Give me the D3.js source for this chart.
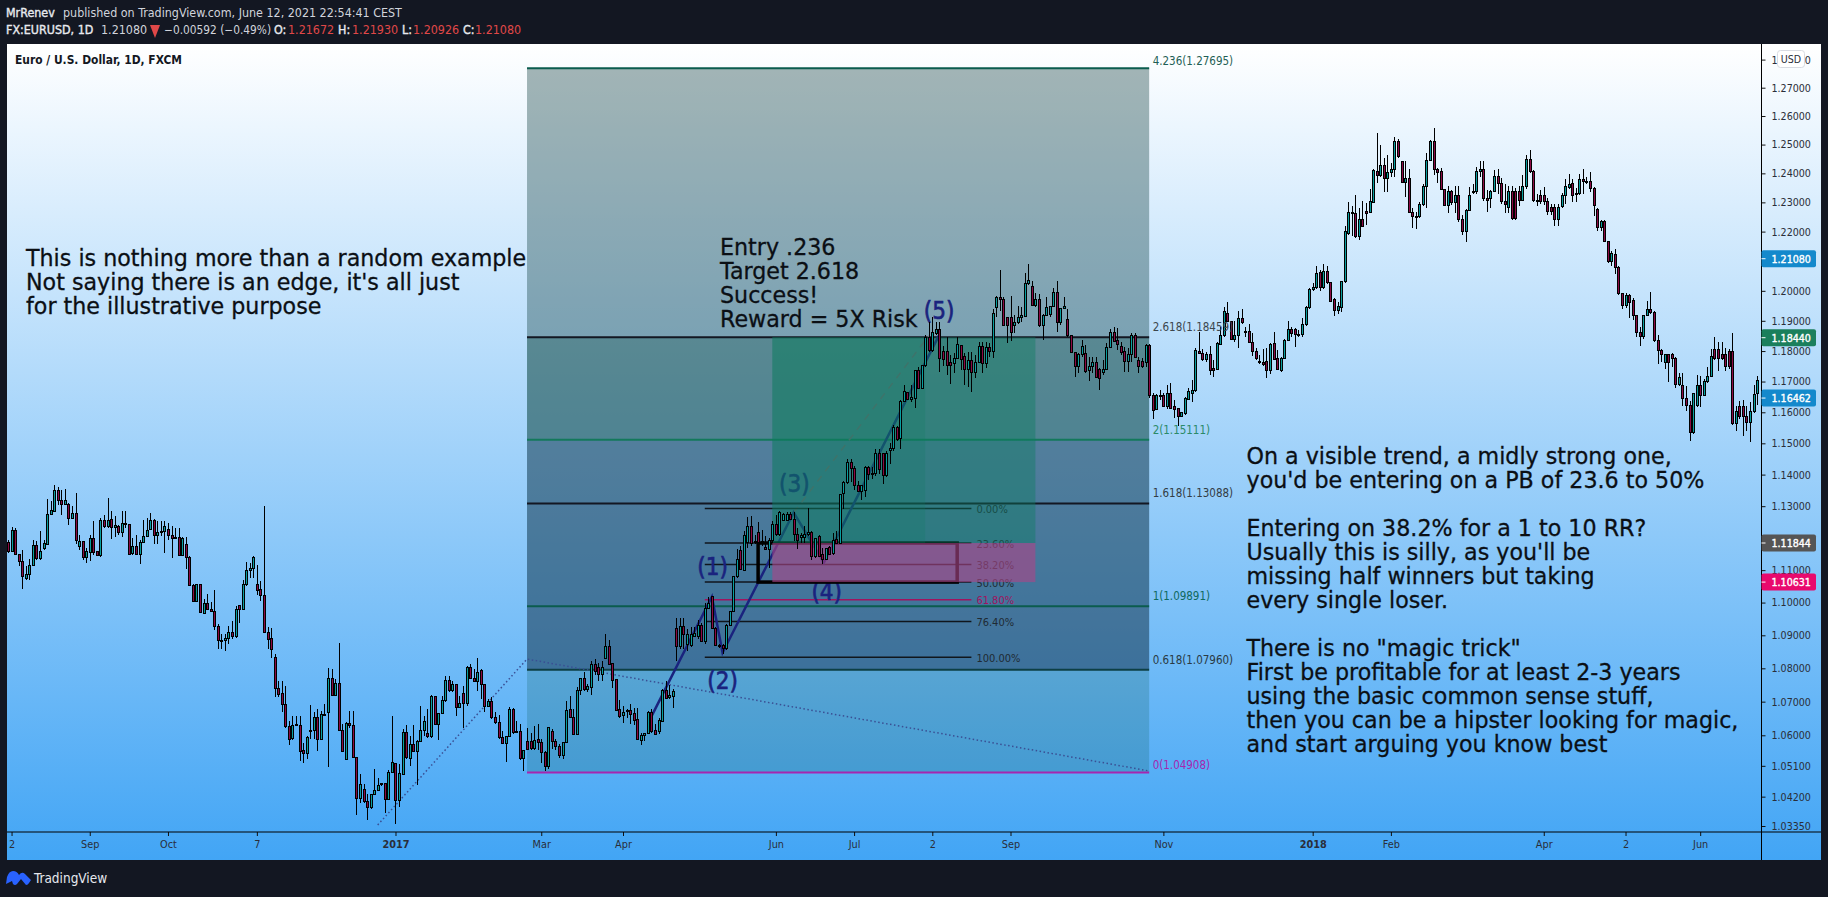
<!DOCTYPE html>
<html><head><meta charset="utf-8">
<script src="https://cdn.jsdelivr.net/npm/d3@7/dist/d3.min.js"></script>
<style>html,body{margin:0;padding:0;background:#131722;overflow:hidden}svg{display:block}text{font-family:"DejaVu Sans";font-stretch:condensed}text.note{font-stretch:normal}</style>
</head><body><svg id="c" width="1828" height="897"></svg>
<script>
// EUR/USD daily candles, prices in pips (1.0000 = 10000)
const opens=[11185,11159,11223,11150,11128,11074,11088,11115,11176,11136,
11167,11180,11275,11284,11351,11318,11304,11304,11261,11278,
11174,11188,11140,11156,11198,11157,11145,11254,11237,11258,
11232,11235,11218,11247,11242,11152,11172,11150,11185,11206,
11226,11254,11208,11216,11221,11228,11208,11202,11202,11145,
11179,11138,11053,11003,11057,10968,10998,10980,10973,10928,
10883,10885,10890,10908,10895,10990,10980,11055,11098,11104,
11057,11039,11022,10910,10890,10833,10740,10723,10692,10625,
10591,10631,10630,10555,10547,10613,10613,10652,10589,10661,
10668,10768,10718,10755,10613,10529,10636,10628,10534,10414,
10442,10407,10388,10425,10439,10458,10458,10411,10490,10516,
10408,10485,10608,10531,10572,10553,10582,10615,10606,10595,
10716,10633,10665,10703,10764,10734,10750,10683,10725,10693,
10801,10768,10760,10792,10751,10685,10701,10653,10638,10592,
10575,10597,10678,10611,10612,10531,10582,10582,10560,10588,
10578,10548,10507,10612,10582,10566,10541,10578,10676,10653,
10603,10733,10768,10736,10743,10813,10801,10781,10831,10865,
10814,10766,10677,10659,10670,10674,10665,10647,10585,10598,
10605,10667,10615,10612,10642,10732,10711,10715,10920,10866,
10928,10873,10868,10896,10896,10931,10880,10982,11018,10921,
10870,10868,10860,10931,10972,11081,11161,11100,11185,11237,
11185,11216,11185,11169,11164,11192,11242,11211,11254,11255,
11275,11257,11211,11203,11203,11211,11218,11143,11205,11148,
11133,11169,11152,11195,11183,11339,11376,11439,11420,11366,
11347,11350,11423,11399,11402,11468,11468,11397,11476,11483,
11552,11514,11634,11664,11640,11645,11736,11678,11752,11845,
11803,11858,11871,11798,11798,11763,11760,11776,11817,11781,
11738,11768,11729,11762,11814,11760,11812,11800,11945,11978,
11972,11912,11912,11885,11896,11912,11915,12023,12014,11950,
11970,11885,11918,11920,11948,11994,11893,11940,11904,11850,
11795,11749,11787,11792,11735,11749,11763,11738,11730,11741,
11811,11861,11834,11814,11798,11767,11790,11852,11768,11765,
11763,11817,11656,11610,11654,11654,11618,11662,11618,11612,
11587,11596,11643,11662,11670,11800,11792,11771,11789,11743,
11741,11822,11850,11925,11899,11839,11850,11907,11866,11866,
11827,11798,11766,11763,11766,11737,11825,11774,11737,11777,
11836,11872,11872,11856,11853,11887,11943,12005,12010,12061,
12012,12066,12027,11971,11935,11943,12030,12194,12263,12263,
12184,12240,12268,12265,12300,12407,12393,12426,12383,12404,
12413,12510,12440,12370,12381,12265,12251,12251,12291,12353,
12446,12510,12413,12407,12345,12290,12337,12299,12324,12240,
12200,12273,12336,12336,12405,12413,12314,12312,12336,12389,
12364,12304,12282,12336,12336,12338,12305,12353,12448,12405,
12308,12322,12322,12304,12282,12282,12240,12285,12322,12352,
12365,12330,12332,12379,12372,12372,12347,12275,12213,12235,
12165,12100,12123,12078,11990,11950,11986,11966,11918,11861,
11847,11917,11937,11926,11836,11802,11763,11788,11788,11774,
11690,11686,11644,11621,11536,11621,11687,11656,11699,11718,
11804,11804,11787,11787,11798,11798,11563,11620,11618,11587,
11568,11602,11660];
const closes=[11159,11223,11149,11128,11081,11088,11115,11176,11136,11157,
11182,11275,11286,11351,11318,11304,11318,11261,11278,11193,
11188,11140,11157,11198,11154,11146,11254,11237,11256,11232,
11239,11218,11245,11242,11150,11172,11150,11185,11206,11223,
11254,11208,11216,11221,11235,11208,11199,11203,11145,11197,
11138,11053,11003,11057,10970,10998,10978,10973,10928,10883,
10885,10890,10908,10895,10980,10980,11055,11098,11104,11140,
11037,11021,10910,10888,10856,10740,10720,10692,10625,10587,
10630,10630,10553,10547,10592,10612,10652,10589,10661,10660,
10768,10718,10755,10613,10553,10636,10628,10534,10414,10455,
10407,10388,10427,10439,10453,10455,10411,10490,10519,10408,
10488,10608,10534,10572,10553,10582,10615,10640,10595,10716,
10633,10665,10703,10764,10734,10750,10683,10693,10693,10801,
10768,10760,10788,10751,10685,10701,10653,10638,10592,10575,
10597,10678,10608,10610,10531,10556,10558,10560,10586,10578,
10548,10507,10623,10582,10566,10541,10578,10673,10653,10603,
10733,10768,10736,10746,10813,10791,10781,10801,10865,10811,
10764,10675,10655,10669,10674,10662,10644,10588,10598,10605,
10667,10612,10603,10644,10732,10709,10719,10729,10866,10928,
10903,10903,10901,10904,10931,10880,10982,10998,10921,10870,
10865,10860,10931,10972,11081,11133,11102,11208,11237,11182,
11190,11185,11190,11164,11192,11242,11211,11281,11273,11275,
11257,11211,11193,11208,11210,11218,11143,11197,11143,11133,
11167,11148,11192,11183,11338,11376,11439,11420,11366,11347,
11366,11423,11399,11402,11468,11416,11397,11468,11483,11552,
11513,11634,11667,11640,11647,11736,11678,11752,11845,11803,
11861,11871,11776,11773,11754,11754,11776,11823,11771,11738,
11768,11729,11762,11814,11760,11812,11800,11923,11978,11970,
11885,11885,11861,11896,11912,11918,12025,12034,11950,11972,
11885,11918,11943,11948,11994,11893,11942,11948,11850,11795,
11749,11787,11814,11732,11749,11763,11713,11711,11741,11811,
11861,11833,11820,11796,11767,11790,11852,11779,11749,11749,
11817,11654,11607,11654,11656,11618,11662,11612,11610,11587,
11599,11645,11667,11670,11802,11792,11771,11790,11735,11735,
11825,11850,11932,11898,11839,11850,11907,11894,11865,11827,
11798,11774,11763,11757,11737,11822,11771,11740,11777,11836,
11870,11858,11853,11855,11887,11943,12005,12010,12058,12012,
12066,12027,11965,11935,11948,12030,12202,12264,12266,12184,
12240,12218,12262,12302,12409,12393,12426,12383,12404,12415,
12510,12459,12370,12381,12265,12251,12250,12293,12353,12446,
12510,12413,12402,12345,12290,12337,12299,12324,12240,12200,
12273,12324,12335,12405,12413,12312,12305,12338,12389,12364,
12302,12291,12336,12244,12244,12305,12356,12448,12405,12306,
12302,12302,12302,12270,12270,12240,12282,12322,12354,12363,
12325,12329,12379,12372,12371,12347,12288,12213,12235,12165,
12100,12125,12078,11990,11950,11986,11960,11918,11861,11847,
11917,11937,11926,11834,11802,11788,11788,11763,11774,11690,
11713,11644,11622,11536,11660,11687,11656,11699,11718,11782,
11775,11775,11775,11750,11750,11563,11603,11587,11587,11568,
11602,11657,11705];
const highs=[11195,11235,11231,11150,11164,11112,11136,11195,11190,11223,
11195,11322,11315,11367,11362,11351,11353,11310,11299,11343,
11211,11190,11169,11208,11254,11159,11263,11273,11325,11284,
11268,11242,11284,11284,11242,11200,11211,11195,11255,11263,
11278,11260,11252,11252,11252,11247,11239,11232,11232,11204,
11204,11143,11057,11057,11057,11010,11027,11003,11038,10933,
10903,10903,10928,10943,10988,10993,11070,11124,11122,11143,
11117,11067,11301,10925,10923,10843,10763,10761,10748,10643,
10658,10658,10658,10577,10597,10690,10668,10678,10673,10693,
10801,10798,10768,10876,10633,10638,10673,10673,10534,10485,
10456,10427,10427,10502,10475,10461,10461,10498,10657,10519,
10514,10618,10630,10597,10630,10587,10688,10658,10678,10720,
10718,10665,10718,10776,10778,10763,10750,10718,10748,10808,
10813,10798,10830,10798,10753,10708,10713,10668,10660,10613,
10597,10683,10680,10643,10633,10558,10623,10608,10628,10633,
10590,10553,10626,10618,10588,10573,10578,10703,10718,10678,
10743,10770,10788,10753,10821,10828,10816,10821,10905,10885,
10816,10766,10704,10687,10679,10692,10682,10682,10606,10608,
10672,10677,10632,10652,10737,10761,10751,10738,10953,10953,
10953,10918,10926,10926,10947,10936,10998,11018,11021,10926,
10875,10875,10934,10975,11083,11166,11174,11221,11266,11268,
11211,11250,11226,11206,11200,11252,11273,11286,11278,11281,
11281,11283,11232,11216,11237,11294,11221,11200,11211,11169,
11169,11174,11216,11221,11340,11381,11449,11449,11426,11381,
11366,11426,11426,11423,11481,11481,11468,11476,11502,11560,
11555,11640,11689,11667,11689,11738,11749,11754,11852,11896,
11912,11896,11896,11817,11847,11787,11792,11847,11820,11792,
11798,11798,11787,11830,11830,11830,11825,11940,11983,12070,
11978,11912,11983,11918,11950,11945,12059,12090,12032,11994,
11989,11923,11978,11950,12010,12032,11942,11978,11940,11852,
11798,11792,11836,11820,11781,11781,11781,11743,11771,11828,
11874,11879,11876,11830,11814,11809,11858,11858,11781,11776,
11823,11822,11662,11658,11672,11662,11689,11696,11640,11615,
11602,11651,11678,11705,11809,11863,11806,11798,11817,11771,
11830,11879,11947,11961,11901,11901,11934,11940,11879,11890,
11858,11809,11786,11808,11811,11828,11864,11802,11780,11841,
11898,11879,11875,11870,11909,11949,12010,12027,12083,12070,
12089,12083,12029,11977,11962,12033,12219,12300,12286,12327,
12280,12303,12297,12347,12415,12541,12498,12454,12465,12436,
12525,12519,12442,12442,12414,12280,12268,12300,12364,12471,
12516,12557,12419,12419,12347,12358,12341,12358,12358,12256,
12278,12352,12364,12421,12443,12443,12341,12341,12410,12414,
12384,12363,12358,12358,12350,12358,12394,12465,12480,12411,
12330,12341,12352,12315,12296,12293,12293,12333,12380,12397,
12382,12349,12398,12414,12386,12406,12353,12280,12241,12241,
12168,12134,12140,12083,11994,11994,11988,11977,11920,11881,
11920,11966,11997,11934,11853,11808,11791,11791,11793,11780,
11727,11728,11686,11638,11664,11723,11717,11707,11746,11806,
11848,11829,11829,11810,11806,11860,11622,11638,11640,11620,
11632,11688,11717];
const lows=[11154,11158,11147,11112,11043,11070,11068,11115,11133,11130,
11164,11178,11275,11284,11304,11271,11304,11242,11260,11180,
11164,11131,11122,11128,11148,11143,11141,11232,11232,11198,
11204,11211,11204,11232,11148,11148,11148,11120,11183,11206,
11226,11180,11180,11206,11154,11195,11138,11200,11145,11145,
11104,11050,11001,11001,10968,10965,10976,10971,10916,10858,
10858,10853,10873,10888,10893,10936,10978,11052,11075,11075,
11024,11006,10908,10858,10830,10713,10713,10668,10623,10572,
10587,10628,10524,10519,10529,10588,10588,10553,10587,10658,
10507,10716,10718,10613,10553,10527,10623,10534,10367,10403,
10403,10352,10385,10425,10437,10451,10372,10411,10490,10340,
10391,10485,10529,10510,10550,10453,10582,10597,10592,10592,
10632,10587,10663,10700,10728,10730,10658,10683,10623,10688,
10768,10758,10733,10708,10668,10683,10648,10633,10589,10573,
10522,10595,10603,10608,10527,10495,10556,10558,10558,10558,
10519,10495,10500,10560,10558,10533,10529,10576,10650,10600,
10601,10721,10733,10728,10720,10780,10761,10761,10829,10811,
10741,10672,10652,10637,10652,10633,10630,10588,10570,10583,
10603,10608,10600,10603,10639,10707,10709,10682,10823,10858,
10858,10853,10865,10894,10890,10880,10875,10982,10919,10867,
10860,10843,10855,10929,10972,11076,11100,11097,11169,11174,
11180,11164,11174,11162,11107,11185,11206,11206,11252,11252,
11255,11190,11166,11185,11185,11206,11131,11138,11141,11119,
11130,11148,11148,11180,11180,11292,11371,11376,11350,11345,
11318,11329,11384,11387,11397,11402,11371,11392,11434,11476,
11507,11482,11634,11640,11634,11615,11675,11675,11749,11798,
11798,11852,11732,11752,11722,11691,11727,11773,11738,11689,
11683,11667,11711,11760,11727,11743,11781,11776,11912,11934,
11882,11825,11833,11858,11890,11896,11912,12021,11950,11945,
11880,11838,11918,11912,11945,11863,11887,11940,11847,11792,
11716,11727,11781,11727,11702,11727,11711,11672,11722,11738,
11809,11830,11805,11787,11732,11732,11765,11776,11727,11743,
11749,11645,11577,11607,11640,11616,11612,11610,11580,11555,
11585,11591,11640,11634,11667,11789,11767,11765,11722,11716,
11738,11820,11847,11896,11836,11830,11811,11890,11847,11825,
11785,11771,11757,11752,11712,11726,11769,11737,11731,11774,
11834,11847,11814,11847,11847,11883,11939,11999,12007,11999,
12007,12022,11962,11915,11924,11928,12027,12190,12185,12178,
12170,12214,12223,12263,12297,12366,12387,12336,12336,12387,
12387,12453,12368,12318,12263,12211,12210,12246,12288,12280,
12443,12396,12368,12341,12287,12263,12290,12263,12234,12189,
12163,12271,12330,12330,12387,12303,12268,12279,12334,12330,
12296,12263,12263,12240,12240,12286,12303,12347,12400,12300,
12286,12296,12290,12257,12257,12218,12218,12282,12296,12347,
12301,12301,12324,12330,12364,12336,12253,12202,12202,12163,
12095,12083,12055,11987,11938,11944,11910,11903,11847,11817,
11841,11915,11924,11831,11757,11763,11741,11700,11746,11680,
11685,11620,11605,11506,11531,11616,11616,11653,11696,11715,
11772,11733,11772,11733,11742,11559,11540,11578,11525,11540,
11503,11598,11625];

const priceTicks=[1.28,1.27,1.26,1.25,1.24,1.23,1.22,1.20,1.19,1.18,1.17,1.16,1.15,1.14,1.13,1.11,1.10,1.09,1.08,1.07,1.06,1.051,1.042,1.0335];
const timeTickBars=[1,23,45,70,109,150,173,216,238,260,282,325,367,389,432,455,476];
const timeTickLabels=["2","Sep","Oct","7","2017","Mar","Apr","Jun","Jul","2","Sep","Nov","2018","Feb","Apr","2","Jun"];
const fibExtLevels=["4.236","2.618","2","1.618","1","0.618","0"];
const fibExtPrices=[1.27695,1.18459,1.15111,1.13088,1.09891,1.07960,1.04908];
const fibExtColors=["#0b5c4e","#131722","#13795b","#131722","#0b5c4e","#0d3f44","#a626b0"];
const fibExtTextColors=["#1f5f55","#3c464d","#2a8a68","#333c44","#0f6a5e","#2a3a44","#a626b0"];
const fibExtZones=["rgba(18,63,63,.38)","rgba(10,65,60,.55)","rgba(16,56,78,.55)","rgba(16,55,78,.55)","rgba(0,25,42,.45)","rgba(0,80,70,.2)"];
const fibRetLabels=["0.00%","23.60%","38.20%","50.00%","61.80%","76.40%","100.00%"];
const fibRetPrices=[1.12928,1.11844,1.11173,1.10631,1.10088,1.09417,1.08333];
const fibRetColors=["#10161c","#10161c","#10161c","#10161c","#a0145f","#10161c","#10161c"];
const waveBars=[181,198,201,221,229.5,261.8];
const wavePrices=[1.0656,1.1018,1.0847,1.1280,1.1123,1.1850];
const waveLabels=["(1)","(2)","(3)","(4)","(5)"];
const waveLabelBars=[198.2,201,221.2,230.3,261.9];
const waveLabelPrices=[1.1109,1.0761,1.1371,1.1032,1.1933];
const trendBars=[104,146,321];
const trendPrices=[1.0338,1.0828,1.0495];
const dashBars=[221,259];
const dashPrices=[1.1280,1.1850];
const badgePrices=[1.2108,1.1844,1.16462,1.11844,1.10631];
const badgeColors=["#1489cc","#1b7f5c","#1489cc","#555555","#e9096d"];
const noteLeft=["This is nothing more than a random example","Not saying there is an edge, it's all just","for the illustrative purpose"];
const noteMid=["Entry .236","Target 2.618","Success!","Reward = 5X Risk"];
const noteRight=["On a visible trend, a midly strong one,","you'd be entering on a PB of 23.6 to 50%","","Entering on 38.2% for a 1 to 10 RR?","Usually this is silly, as you'll be","missing half winners but taking","every single loser.","","There is no \"magic trick\"","First be profitable for at least 2-3 years","using the basic common sense stuff,","then you can be a hipster looking for magic,","and start arguing you know best"];

const W=1828,H=897,L=7,T=44,R=1821,B=860,AX=1761.5,AY=832;
const svg=d3.select("#c");
const x=d3.scaleLinear().domain([0,492]).range([8,8+3.555*492]);
const y=d3.scaleLog().domain([1.0335,1.27]).range([826,87.7]);
const defs=svg.append("defs");
const g=defs.append("linearGradient").attr("id","bg").attr("gradientUnits","userSpaceOnUse").attr("x1",0).attr("x2",0).attr("y1",T).attr("y2",B);
g.append("stop").attr("offset",0).attr("stop-color","#ffffff");
g.append("stop").attr("offset",1).attr("stop-color","#42a5f5");
defs.append("clipPath").attr("id","plot").append("rect").attr("x",L).attr("y",T).attr("width",AX-L).attr("height",AY-T);

svg.append("rect").attr("width",W).attr("height",H).attr("fill","#131722");
svg.append("rect").attr("x",L).attr("y",T).attr("width",R-L).attr("height",B-T).attr("fill","url(#bg)");

const head=svg.append("g");
const spans=[[6,17,"MrRenev",1,"#e8eaef",12.4],[63,17,"published on TradingView.com, June 12, 2021 22:54:41 CEST",0,"#d1d4dc",12.4],
[6,34,"FX:EURUSD, 1D",1,"#e8eaef",12.4],[101,34,"1.21080",0,"#d1d4dc",12.4],[164,34,"−0.00592 (−0.49%)",0,"#d1d4dc",11.8],
[274,34,"O:",1,"#e8eaef",12.4],[288,34,"1.21672",0,"#e04848",12.4],[338,34,"H:",1,"#e8eaef",12.4],[352,34,"1.21930",0,"#e04848",12.4],
[402,34,"L:",1,"#e8eaef",12.4],[413,34,"1.20926",0,"#e04848",12.4],[463,34,"C:",1,"#e8eaef",12.4],[475,34,"1.21080",0,"#e04848",12.4]];
head.selectAll("text").data(spans).join("text").attr("x",d=>d[0]).attr("y",d=>d[1]).text(d=>d[2]).attr("font-size",d=>d[5]).attr("fill",d=>d[4]).attr("stroke",d=>d[3]?d[4]:"none").attr("stroke-width",.35);
svg.append("path").attr("d","M150 25H160L155 38Z").attr("fill","#e04848");
svg.append("text").attr("x",15).attr("y",64).attr("font-size",11.9).attr("font-weight",700).attr("fill","#131722").text("Euro / U.S. Dollar, 1D, FXCM");

const plot=svg.append("g").attr("clip-path","url(#plot)");
const fibX0=x(146),fibX1=x(321);
plot.selectAll("rect.z").data(fibExtZones).join("rect").attr("class","z")
 .attr("x",fibX0).attr("width",fibX1-fibX0)
 .attr("y",(d,i)=>y(fibExtPrices[i])).attr("height",(d,i)=>y(fibExtPrices[i+1])-y(fibExtPrices[i])).attr("fill",d=>d);
plot.selectAll("line.e").data(fibExtPrices).join("line").attr("class","e")
 .attr("x1",fibX0).attr("x2",fibX1).attr("y1",d=>y(d)).attr("y2",d=>y(d))
 .attr("stroke",(d,i)=>fibExtColors[i]).attr("stroke-width",2);
svg.selectAll("text.e").data(fibExtPrices).join("text").attr("class","e")
 .attr("x",fibX1+3.5).attr("y",(d,i)=>y(d)-(i==0?3:i==6?3:6)).attr("font-size",11.5)
 .attr("fill",(d,i)=>fibExtTextColors[i]).text((d,i)=>`${fibExtLevels[i]}(${d.toFixed(5)})`);
const ln=d3.line();
plot.append("path").attr("d",ln(trendBars.map((b,i)=>[x(b),y(trendPrices[i])]))).attr("fill","none").attr("stroke","#3a4f94").attr("stroke-width",1.5).attr("stroke-dasharray","1.5 2.5");
plot.append("path").attr("d",ln(dashBars.map((b,i)=>[x(b),y(dashPrices[i])]))).attr("fill","none").attr("stroke","#7a6a78").attr("stroke-width",1.5).attr("stroke-dasharray","7 6");
const retX0=x(196),retX1=x(271);
plot.selectAll("line.r").data(fibRetPrices).join("line").attr("class","r").attr("x1",retX0).attr("x2",retX1)
 .attr("y1",d=>y(d)).attr("y2",d=>y(d)).attr("stroke",(d,i)=>fibRetColors[i]).attr("stroke-width",1.5);
plot.selectAll("text.r").data(fibRetPrices).join("text").attr("class","r").attr("x",retX1+5).attr("y",d=>y(d)+4.5)
 .attr("font-size",11).attr("fill",(d,i)=>fibRetColors[i]==="#a0145f"?"#a0145f":"#1f2a33").text((d,i)=>fibRetLabels[i]);
plot.append("path").attr("d",ln(waveBars.map((b,i)=>[x(b),y(wavePrices[i])]))).attr("fill","none").attr("stroke","#1a237e").attr("stroke-width",2.5);
plot.selectAll("text.w").data(waveLabels).join("text").attr("class","w").attr("text-anchor","middle").attr("dominant-baseline","central")
 .attr("x",(d,i)=>x(waveLabelBars[i])).attr("y",(d,i)=>y(waveLabelPrices[i])).attr("font-size",24).attr("fill","#1a237e").attr("stroke","#1a237e").attr("stroke-width",.6).text(d=>d);
plot.append("rect").attr("x",x(211)).attr("y",y(1.11844)).attr("width",x(267)-x(211)).attr("height",y(1.10631)-y(1.11844)).attr("fill","none").attr("stroke","#000").attr("stroke-width",3.5);
plot.append("rect").attr("x",x(215)).attr("width",x(289)-x(215)).attr("y",y(1.18459)).attr("height",y(1.11844)-y(1.18459)).attr("fill","rgba(12,125,95,.42)");
plot.append("rect").attr("x",x(215)).attr("width",x(258)-x(215)).attr("y",y(1.18459)).attr("height",y(1.11844)-y(1.18459)).attr("fill","rgba(12,125,95,.22)");
plot.append("rect").attr("x",x(215)).attr("width",x(289)-x(215)).attr("y",y(1.11844)).attr("height",y(1.10631)-y(1.11844)).attr("fill","rgba(170,70,135,.62)");

const idx=d3.range(opens.length);
const px=p=>y(p/10000);
plot.append("g").attr("shape-rendering","crispEdges").selectAll("line").data(idx).join("line")
 .attr("x1",i=>Math.round(x(i))+.5).attr("x2",i=>Math.round(x(i))+.5).attr("y1",i=>px(highs[i])).attr("y2",i=>px(lows[i])).attr("stroke","#000").attr("stroke-width",1);
plot.append("g").attr("shape-rendering","crispEdges").selectAll("rect").data(idx).join("rect")
 .attr("x",i=>Math.round(x(i))-.5).attr("width",2)
 .attr("y",i=>px(Math.max(opens[i],closes[i]))).attr("height",i=>Math.max(1,Math.abs(px(opens[i])-px(closes[i]))))
 .attr("fill",i=>closes[i]>=opens[i]?"#089f9f":"#8b0a45").attr("stroke","#000").attr("stroke-width",1);

const noteFont=22.2;
function notes(arr,xp,y0){svg.append("g").attr("font-size",noteFont).attr("fill","#0b0f14").attr("stroke","#0b0f14").attr("stroke-width",.3).selectAll("text").data(arr).join("text").attr("class","note")
 .attr("x",xp).attr("y",(d,i)=>y0+i*24).attr("dominant-baseline","central").text(d=>d);}
notes(noteLeft,26,258);notes(noteMid,720,247);notes(noteRight,1246.5,456);

const yAxis=d3.axisRight(y).tickValues(priceTicks).tickFormat(d3.format(".5f")).tickSize(4).tickPadding(6);
const ya=svg.append("g").attr("transform",`translate(${AX},0)`).call(yAxis);
ya.select(".domain").remove();ya.selectAll("line").attr("stroke","#111");
ya.selectAll("text").attr("font-size",10.6).attr("fill","#2a2e39");
const xAxis=d3.axisBottom(x).tickValues(timeTickBars).tickFormat((d,i)=>timeTickLabels[i]).tickSize(4).tickPadding(4);
const xa=svg.append("g").attr("transform",`translate(0,${AY})`).call(xAxis);
xa.select(".domain").remove();xa.selectAll("line").attr("stroke","#111");
xa.selectAll("text").attr("font-size",10.8).attr("fill","#2a2e39").attr("font-weight",(d,i)=>/^20/.test(timeTickLabels[i])?700:400);
svg.append("line").attr("x1",AX).attr("x2",AX).attr("y1",T).attr("y2",B).attr("stroke","#000").attr("stroke-width",1);
svg.append("line").attr("x1",L).attr("x2",R).attr("y1",AY).attr("y2",AY).attr("stroke","#000").attr("stroke-width",1);
const bad=svg.append("g").selectAll("g").data(badgePrices).join("g").attr("transform",d=>`translate(${AX},${y(d)})`);
bad.append("rect").attr("x",0).attr("y",-8.5).attr("width",54.5).attr("height",17).attr("rx",2).attr("fill",(d,i)=>badgeColors[i]);
bad.append("line").attr("x1",0).attr("x2",4).attr("stroke","#fff");
bad.append("text").attr("x",10).attr("dominant-baseline","central").attr("font-size",10.6).attr("stroke","#fff").attr("stroke-width",.35).attr("fill","#fff").text(d=>d.toFixed(5));
svg.append("rect").attr("x",1777.5).attr("y",50.5).attr("width",27).attr("height",17).attr("rx",3).attr("fill","#fff").attr("stroke","#d8dbe2");
svg.append("text").attr("x",1791).attr("y",59).attr("text-anchor","middle").attr("dominant-baseline","central").attr("font-size",10.6).attr("fill","#2a2e39").text("USD");
svg.append("path").attr("d","M6 884L7 877Q9 871 13 871Q17 871 19 875Q22 871 25 874L31 880L29 883Q28 885 26 885L21 879L17 884Q15 886 13 884L12 881Z").attr("fill","#2962ff");
svg.append("text").attr("x",34).attr("y",878).attr("dominant-baseline","central").attr("font-size",13.5).attr("fill","#e6e8ee").text("TradingView");
</script></body></html>
